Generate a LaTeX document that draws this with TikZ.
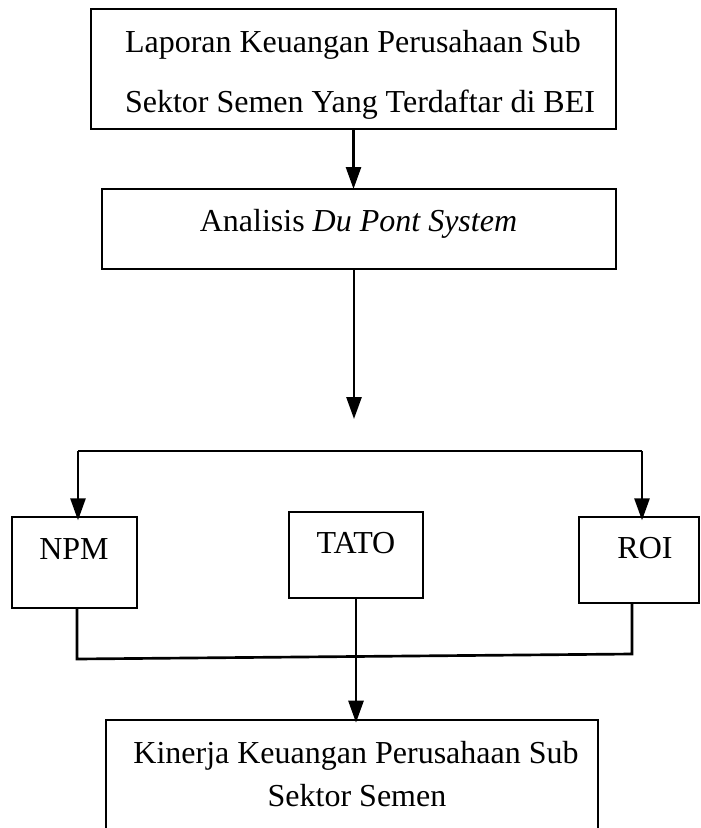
\documentclass[tikz,border=0pt]{standalone}
\usepackage{fontspec}
\setmainfont{Liberation Serif}
\usetikzlibrary{arrows.meta}
\def\pxu{0.75pt}
\tikzset{
  box/.style={draw, line width=0.9pt, inner sep=0pt, outer sep=0pt, anchor=north west},
  boxthick/.style={box, line width=2.2pt},
  txt/.style={font=\fontsize{24}{28}\selectfont, inner sep=0pt, outer sep=0pt},
  conn/.style={line width=2pt},
  arr/.style={conn, -{Triangle[width=11.25pt,length=16.5pt]}}
}
\begin{document}
\begin{tikzpicture}[x=0.75pt, y=-0.75pt]
\useasboundingbox (0,0) rectangle (700,828);
% boxes
\node[box, minimum width=525*\pxu, minimum height=120*\pxu] (b1) at (91,9) {};
\node[box, minimum width=514*\pxu, minimum height=80*\pxu] (b2) at (102,189) {};
\node[boxthick, minimum width=125*\pxu, minimum height=91*\pxu] (npm) at (12,517) {};
\node[box, minimum width=134*\pxu, minimum height=86*\pxu] (tato) at (289,512) {};
\node[box, minimum width=120*\pxu, minimum height=86*\pxu] (roi) at (579,517) {};
\node[box, minimum width=492*\pxu, minimum height=112*\pxu] (kin) at (106,720) {};
% texts
\node[txt, anchor=base west] (t1a) at (125,52) {Laporan Keuangan Perusahaan Sub};
\node[txt, anchor=base west] (t1b) at (125,112) {Sektor Semen Yang Terdaftar di BEI};
\node[txt, anchor=base] (t2) at (358.5,231) {Analisis \textit{Du Pont System}};
\node[txt, anchor=base] (tnpm) at (74,559) {NPM};
\node[txt, anchor=base] (ttato) at (356,553) {TATO};
\node[txt, anchor=base] (troi) at (645,558) {ROI};
\node[txt, anchor=base] (tk1) at (356,763) {Kinerja Keuangan Perusahaan Sub};
\node[txt, anchor=base] (tk2) at (357,806) {Sektor Semen};
% coordinates
\coordinate (c1) at (354,419);
\coordinate (bl) at (78,451);
\coordinate (br) at (642,451);
\coordinate (dl) at (77,659);
\coordinate (dr) at (632,654);
% connectors
\draw[arr] (b1.south) -- (b1.south |- b2.north);
\draw[arr] (b2.south -| c1) -- (c1);
\draw[conn] (bl) -- (br);
\draw[arr] (bl) -- ([yshift=-2.5pt]bl |- npm.north);
\draw[arr] (br) -- ([yshift=-2.5pt]br |- roi.north);
\draw[conn] (npm.south -| dl) -- (dl) -- (dr) -- (roi.south -| dr);
\draw[arr] (tato.south) -- ([yshift=-2pt]tato.south |- kin.north);
\end{tikzpicture}
\end{document}
